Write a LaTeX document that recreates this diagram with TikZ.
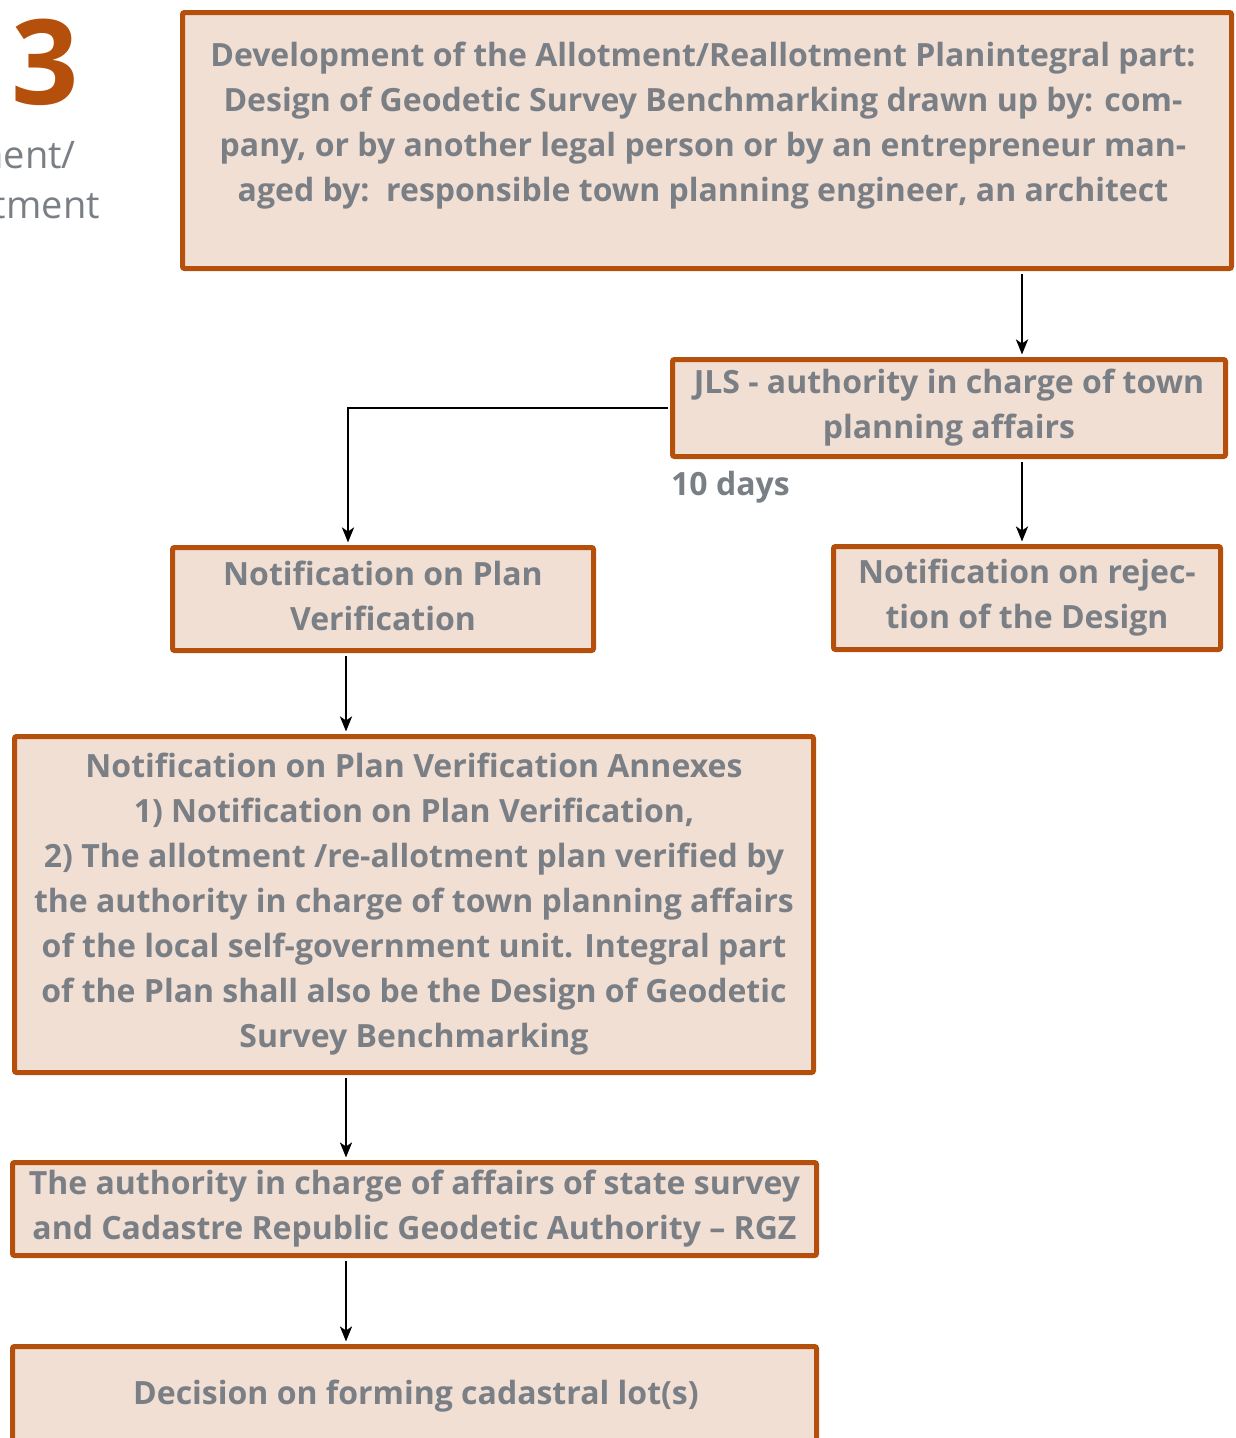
\documentclass[tikz,border=0pt]{standalone}
\usepackage{fontspec}
\setmainfont{Open Sans}
\usetikzlibrary{arrows.meta}
\definecolor{rim}{RGB}{181,80,12}
\definecolor{paper}{RGB}{241,223,211}
\definecolor{ink}{RGB}{122,127,134}
\tikzset{
  box/.style={draw=rim, fill=paper, line width=5pt, rounded corners=2pt,
    inner sep=0pt, align=center, text=ink,
    font=\fontsize{32}{45}\selectfont\bfseries},
  txt/.style={inner sep=0pt, align=center, text=ink,
    font=\fontsize{32}{45}\selectfont\bfseries},
  arr/.style={draw=black, line width=2.5pt,
    -{Stealth[length=15pt,width=12pt,inset=4pt]},
    shorten <=3pt, shorten >=2.5pt},
}
\begin{document}
\begin{tikzpicture}[x=1pt,y=-1pt]
\useasboundingbox (0,0) rectangle (1236,1438);
\clip (0,0) rectangle (1236,1438);
\fill[white] (0,0) rectangle (1236,1438);

% chapter number and title fragments
\node[anchor=base east, inner sep=0pt, text=rim,
  font=\fontsize{118}{118}\selectfont\bfseries] (num) at (79,104) {4\kern18pt3};
\node[anchor=base east, inner sep=0pt, text=ink,
  font=\fontsize{38}{50}\selectfont] (tA) at (76,168) {Allotment/};
\node[anchor=base east, inner sep=0pt, text=ink,
  font=\fontsize{38}{50}\selectfont] (tB) at (100,218) {Reallotment};

% boxes
\node[box, minimum width=1049, minimum height=256] (top) at (707,140.5) {};
\node[txt, anchor=north] (toptext) at (703,42) {Development of the Allotment/Reallotment Planintegral part:\\
Design of Geodetic Survey Benchmarking drawn up by: com-\\
pany, or by another legal person or by an entrepreneur man-\\
aged by:\ \ responsible town planning engineer, an architect};

\node[box, minimum width=553, minimum height=97] (jls) at (949,408)
  {JLS - authority in charge of town\\planning affairs};
\node[txt, anchor=west] (days) at (671,487) {10 days};

\node[box, minimum width=421, minimum height=103] (verif) at (383,599)
  {\raisebox{5pt}{\begin{tabular}{@{}c@{}}Notification on Plan\\Verification\end{tabular}}};
\node[box, minimum width=387, minimum height=103] (reject) at (1027,598)
  {Notification on rejec-\\tion of the Design};

\node[box, minimum width=799, minimum height=336] (annex) at (414,904.5)
  {Notification on Plan Verification Annexes\\
   1) Notification on Plan Verification,\\
   2) The allotment /re-allotment plan verified by\\
   the authority in charge of town planning affairs\\
   of the local self-government unit. Integral part\\
   of the Plan shall also be the Design of Geodetic\\
   Survey Benchmarking};

\node[box, minimum width=804, minimum height=93] (rgz) at (414.5,1209)
  {The authority in charge of affairs of state survey\\
   and Cadastre Republic Geodetic Authority -- RGZ};

\node[box, minimum width=804, minimum height=200] (decide) at (414.5,1446.5) {};
\node[txt] (decidetext) at (416,1396) {Decision on forming cadastral lot(s)};

% guide columns for the connectors
\coordinate (colR) at (1022,0);
\coordinate (colL) at (348,0);
\coordinate (colM) at (346,0);

% connectors
\draw[arr] (top.south -| colR) -- (jls.north -| colR);
\draw[arr] (jls.south -| colR) -- (reject.north -| colR);
\draw[arr, shorten <=2.5pt] (jls.west) -| (verif.north -| colL);
\draw[arr] (verif.south -| colM) -- (annex.north -| colM);
\draw[arr] (annex.south -| colM) -- (rgz.north -| colM);
\draw[arr] (rgz.south -| colM) -- (decide.north -| colM);
\end{tikzpicture}
\end{document}
